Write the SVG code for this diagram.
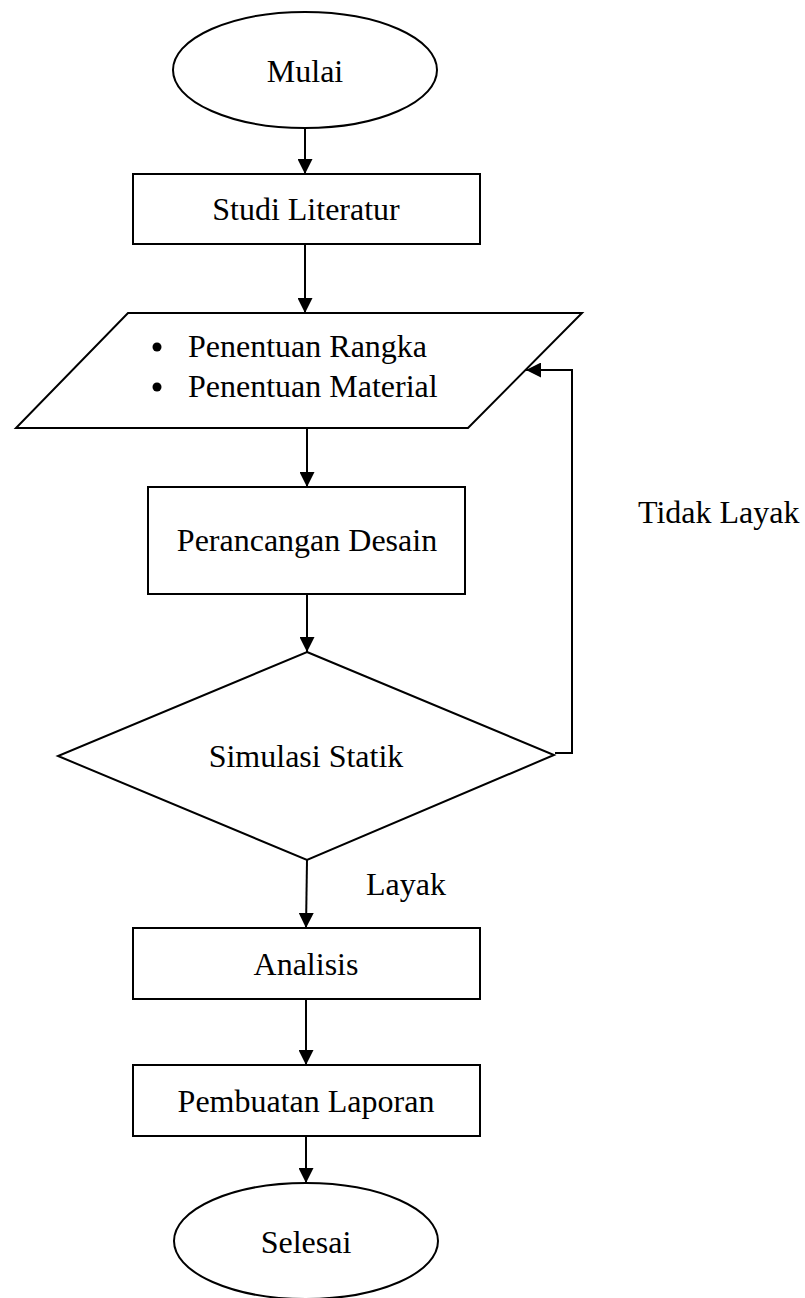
<svg xmlns="http://www.w3.org/2000/svg" width="805" height="1298" viewBox="0 0 805 1298">
<style>
.s{fill:#fff;stroke:#000;stroke-width:2}
.c{fill:none;stroke:#000;stroke-width:2}
.t{font-family:"Liberation Serif","Times New Roman",serif;font-size:32px;fill:#000}
.m{text-anchor:middle}
</style>
<defs>
<marker id="ah" markerUnits="userSpaceOnUse" markerWidth="15" markerHeight="15" refX="15" refY="7.5" orient="auto">
<path d="M0,0 L15,7.5 L0,15 z" fill="#000"/>
</marker>
</defs>
<rect width="805" height="1298" fill="#fff"/>
<g id="connectors">
<line class="c" x1="305" y1="128" x2="305" y2="174" marker-end="url(#ah)"/>
<line class="c" x1="305" y1="244" x2="305" y2="313" marker-end="url(#ah)"/>
<line class="c" x1="307" y1="428" x2="307" y2="487" marker-end="url(#ah)"/>
<line class="c" x1="307" y1="594" x2="307" y2="652" marker-end="url(#ah)"/>
<line class="c" x1="307" y1="860" x2="306" y2="928" marker-end="url(#ah)"/>
<line class="c" x1="306" y1="999" x2="306" y2="1065" marker-end="url(#ah)"/>
<line class="c" x1="306" y1="1136" x2="306" y2="1183" marker-end="url(#ah)"/>
<path class="c" d="M555,753 L572,753 L572,370 L526,370" marker-end="url(#ah)"/>
</g>
<g id="mulai">
<ellipse class="s" cx="305" cy="70" rx="132" ry="58"/>
<text class="t m" x="305" y="82">Mulai</text>
</g>
<g id="studi">
<rect class="s" x="133" y="174" width="347" height="70"/>
<text class="t m" x="306" y="220">Studi Literatur</text>
</g>
<g id="penentuan">
<polygon class="s" points="128,313 582,313 468,428 16,428"/>
<circle cx="157" cy="347" r="4.5" fill="#000"/>
<circle cx="157" cy="387" r="4.5" fill="#000"/>
<text class="t" x="188" y="357">Penentuan Rangka</text>
<text class="t" x="188" y="397">Penentuan Material</text>
</g>
<g id="perancangan">
<rect class="s" x="148" y="487" width="317" height="107"/>
<text class="t m" x="307" y="551">Perancangan Desain</text>
</g>
<g id="simulasi">
<polygon class="s" points="307,652 554,755 307,860 58,756"/>
<text class="t m" x="306" y="767">Simulasi Statik</text>
</g>
<g id="analisis">
<rect class="s" x="133" y="928" width="347" height="71"/>
<text class="t m" x="306" y="975">Analisis</text>
</g>
<g id="laporan">
<rect class="s" x="133" y="1065" width="347" height="71"/>
<text class="t m" x="306" y="1112">Pembuatan Laporan</text>
</g>
<g id="selesai">
<ellipse class="s" cx="306" cy="1241" rx="132" ry="58"/>
<text class="t m" x="306" y="1253">Selesai</text>
</g>
<g id="labels">
<text class="t" x="366" y="895">Layak</text>
<text class="t" x="638" y="523">Tidak Layak</text>
</g>
</svg>
